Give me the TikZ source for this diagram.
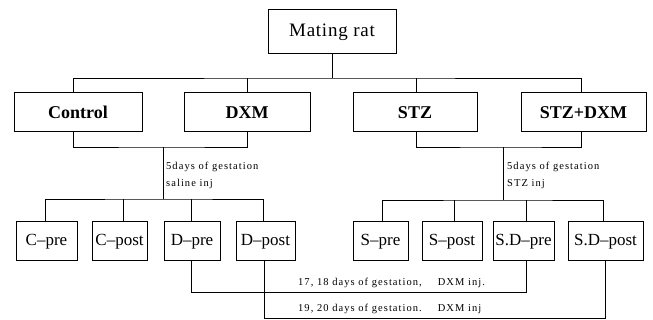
\documentclass[tikz,border=0pt]{standalone}
\usepackage{fontspec}
\setmainfont{Liberation Serif}
\newfontfamily\smallfont[LetterSpace=10]{Liberation Serif}
\newfontfamily\wideserif[LetterSpace=4]{Liberation Serif}
\begin{document}
\begin{tikzpicture}[x=1pt,y=-1pt,
  box/.style={draw,line width=1pt,minimum height=39pt,inner sep=0pt,font=\fontsize{17}{19}\selectfont},
  topbox/.style={box,font=\fontsize{18}{20}\selectfont\bfseries},
  conn/.style={line width=0.8pt},
  note/.style={anchor=west,inner sep=0pt,font=\smallfont\fontsize{10.5}{12}\selectfont}]
\useasboundingbox (0,0) rectangle (653,320);
% nodes
\node[box,minimum width=128pt,minimum height=44pt,font=\wideserif\fontsize{19}{21}\selectfont] (mating) at (332,32) {Mating rat};
\node[topbox,minimum width=128pt] (control) at (78,112.5) {Control};
\node[topbox,minimum width=126pt] (dxm) at (247,112.5) {DXM};
\node[topbox,minimum width=124pt] (stz) at (415,112.5) {STZ};
\node[topbox,minimum width=125pt] (stzdxm) at (583.5,112.5) {STZ+DXM};
\node[box,minimum width=61pt] (cpre) at (46.5,241.5) {C–pre};
\node[box,minimum width=55pt] (cpost) at (119.5,241.5) {C–post};
\node[box,minimum width=56pt] (dpre) at (192,241.5) {D–pre};
\node[box,minimum width=59pt] (dpost) at (265.5,241.5) {D–post};
\node[box,minimum width=55pt] (spre) at (380.5,241.5) {S–pre};
\node[box,minimum width=60pt] (spost) at (452,241.5) {S–post};
\node[box,minimum width=61pt] (sdpre) at (523.5,241.5) {S.D–pre};
\node[box,minimum width=75pt] (sdpost) at (605.5,241.5) {S.D–post};
% bus coordinates
\coordinate (bus1) at (332,78);
\coordinate (busL) at (163,147);
\coordinate (busR) at (503,147);
\coordinate (busL2) at (163,199);
\coordinate (busR2) at (503,200);
% top tree
\draw[conn] (mating.south -| bus1) -- (bus1);
\draw[conn] (control.north -| 73,0) |- (bus1) -| (stzdxm.north -| 581,0);
\draw[conn] (dxm.north -| 247,0) -- (247,78);
\draw[conn] (stz.north -| 416,0) -- (416,78);
% second level
\draw[conn] (control.south -| 73,0) |- (busL) -| (dxm.south -| 247,0);
\draw[conn] (stz.south -| 416,0) |- (busR) -| (stzdxm.south -| 581,0);
\draw[conn] (busL) -- (busL2);
\draw[conn] (busR) -- (busR2);
% lower tree left
\draw[conn] (cpre.north -| 45,0) |- (busL2) -| (dpost.north -| 263,0);
\draw[conn] (cpost.north -| 123,0) -- (123,199);
\draw[conn] (dpre.north -| 191,0) -- (191,199);
% lower tree right
\draw[conn] (spre.north -| 382,0) |- (busR2) -| (sdpost.north -| 603,0);
\draw[conn] (spost.north -| 454,0) -- (454,200);
\draw[conn] (sdpre.north -| 526,0) -- (526,200);
% bottom connections
\draw[conn] (dpre.south -| 191,0) |- (526,292) -- (sdpre.south -| 526,0);
\draw[conn] (dpost.south -| 264,0) |- (605,318) -- (sdpost.south -| 605,0);
% notes
\node[note] (n1) at (166,167) {5days of gestation};
\node[note] (n2) at (166,184) {saline inj};
\node[note] (n3) at (507,167) {5days of gestation};
\node[note] (n4) at (507,184) {STZ inj};
\node[note] (n5) at (298,283) {17, 18 days of gestation,\hspace{16pt}DXM inj.};
\node[note] (n6) at (298,309) {19, 20 days of gestation.\hspace{16pt}DXM inj};
\end{tikzpicture}
\end{document}
